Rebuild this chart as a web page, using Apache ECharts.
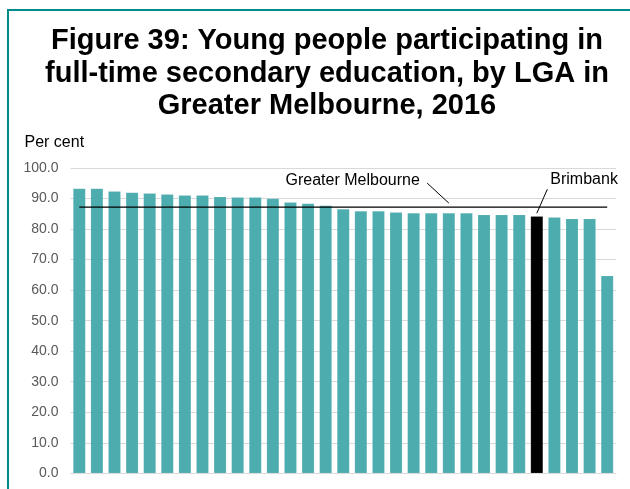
<!DOCTYPE html>
<html>
<head>
<meta charset="utf-8">
<script src="https://cdn.jsdelivr.net/npm/echarts@6/dist/echarts.min.js"></script>
<style>
html,body{margin:0;padding:0;background:#fff;}
#frame{position:absolute;left:7px;top:9px;width:640px;height:500px;border-left:2.5px solid #008B8B;border-top:2.5px solid #008B8B;box-sizing:border-box;}
#chart{position:absolute;left:0;top:0;width:630px;height:489px;}
</style>
</head>
<body>
<div id="frame"></div>
<div id="chart"></div>
<script>
const titleText = 'Figure 39: Young people participating in\nfull-time secondary education, by LGA in\nGreater Melbourne, 2016';
const categories = ['LGA 1','LGA 2','LGA 3','LGA 4','LGA 5','LGA 6','LGA 7','LGA 8','LGA 9','LGA 10',
  'LGA 11','LGA 12','LGA 13','LGA 14','LGA 15','LGA 16','LGA 17','LGA 18','LGA 19','LGA 20',
  'LGA 21','LGA 22','LGA 23','LGA 24','LGA 25','LGA 26','Brimbank','LGA 28','LGA 29','LGA 30','LGA 31'];
const values = [93.3, 93.3, 92.4, 92.0, 91.7, 91.4, 91.1, 91.1, 90.6, 90.4,
  90.4, 90.0, 88.8, 88.4, 87.7, 86.6, 85.9, 85.9, 85.5, 85.3,
  85.3, 85.3, 85.3, 84.7, 84.7, 84.7, 84.2, 83.9, 83.4, 83.4, 64.7];
const highlight = 'Brimbank';
const greaterMelbourne = 87.2;
const yTicks = [0,10,20,30,40,50,60,70,80,90,100];

const chart = echarts.init(document.getElementById('chart'), null, {renderer:'canvas'});
const FONT = 'Liberation Sans, Arial, sans-serif';
const option = {
  animation:false,
  title:{
    text:titleText, left:322, textAlign:'center', top:20,
    textStyle:{fontFamily:FONT, fontWeight:'bold', fontSize:29, lineHeight:32.5, color:'#000'}
  },
  grid:{left:70.5, right:14, top:168, bottom:15.7},
  xAxis:{
    type:'category', data:categories, boundaryGap:true,
    axisLine:{show:true, lineStyle:{color:'#D9D9D9', width:1}},
    axisTick:{show:false}, axisLabel:{show:false}
  },
  yAxis:{
    type:'value', min:yTicks[0], max:yTicks[yTicks.length-1], interval:10,
    name:'Per cent', nameLocation:'end', nameGap:17,
    nameTextStyle:{fontFamily:FONT, fontSize:16, color:'#000', align:'left', padding:[0,0,0,-46]},
    axisLine:{show:false}, axisTick:{show:false},
    axisLabel:{fontFamily:FONT, fontSize:14, color:'#595959', margin:12, formatter:v=>v.toFixed(1)},
    splitLine:{lineStyle:{color:'#D9D9D9', width:1}}
  },
  series:[
    {
      type:'bar', barWidth:12.5,
      data:values.map((v,i)=>({value:v, itemStyle:{color: categories[i]===highlight ? '#000000' : '#4DACAE'}})),
      itemStyle:{borderColor:'rgba(255,255,255,0.25)', borderWidth:0.5}
    },
    {
      type:'line', data:categories.map(()=>greaterMelbourne),
      symbol:'none', lineStyle:{color:'#000', width:1.2}, z:5
    }
  ]
};
chart.setOption(option);

// annotations anchored to data positions
const hiIdx = categories.indexOf(highlight);
const bTop = chart.convertToPixel({gridIndex:0}, [hiIdx, values[hiIdx]]);
const gmPt = chart.convertToPixel({gridIndex:0}, [21.2, greaterMelbourne]);
chart.setOption({
  graphic:[
    {type:'line', shape:{x1:gmPt[0]-21.7, y1:gmPt[1]-24, x2:gmPt[0], y2:gmPt[1]-4}, style:{stroke:'#000', lineWidth:1}},
    {type:'text', style:{text:'Greater Melbourne', x:gmPt[0]-29, y:gmPt[1]-26, textAlign:'right', textVerticalAlign:'middle', font:'16px '+FONT, fill:'#000'}},
    {type:'line', shape:{x1:bTop[0]+10.5, y1:bTop[1]-27, x2:bTop[0], y2:bTop[1]-3}, style:{stroke:'#000', lineWidth:1}},
    {type:'text', style:{text:'Brimbank', x:bTop[0]+13.5, y:bTop[1]-37, textAlign:'left', textVerticalAlign:'middle', font:'16px '+FONT, fill:'#000'}}
  ]
});
</script>
</body>
</html>
